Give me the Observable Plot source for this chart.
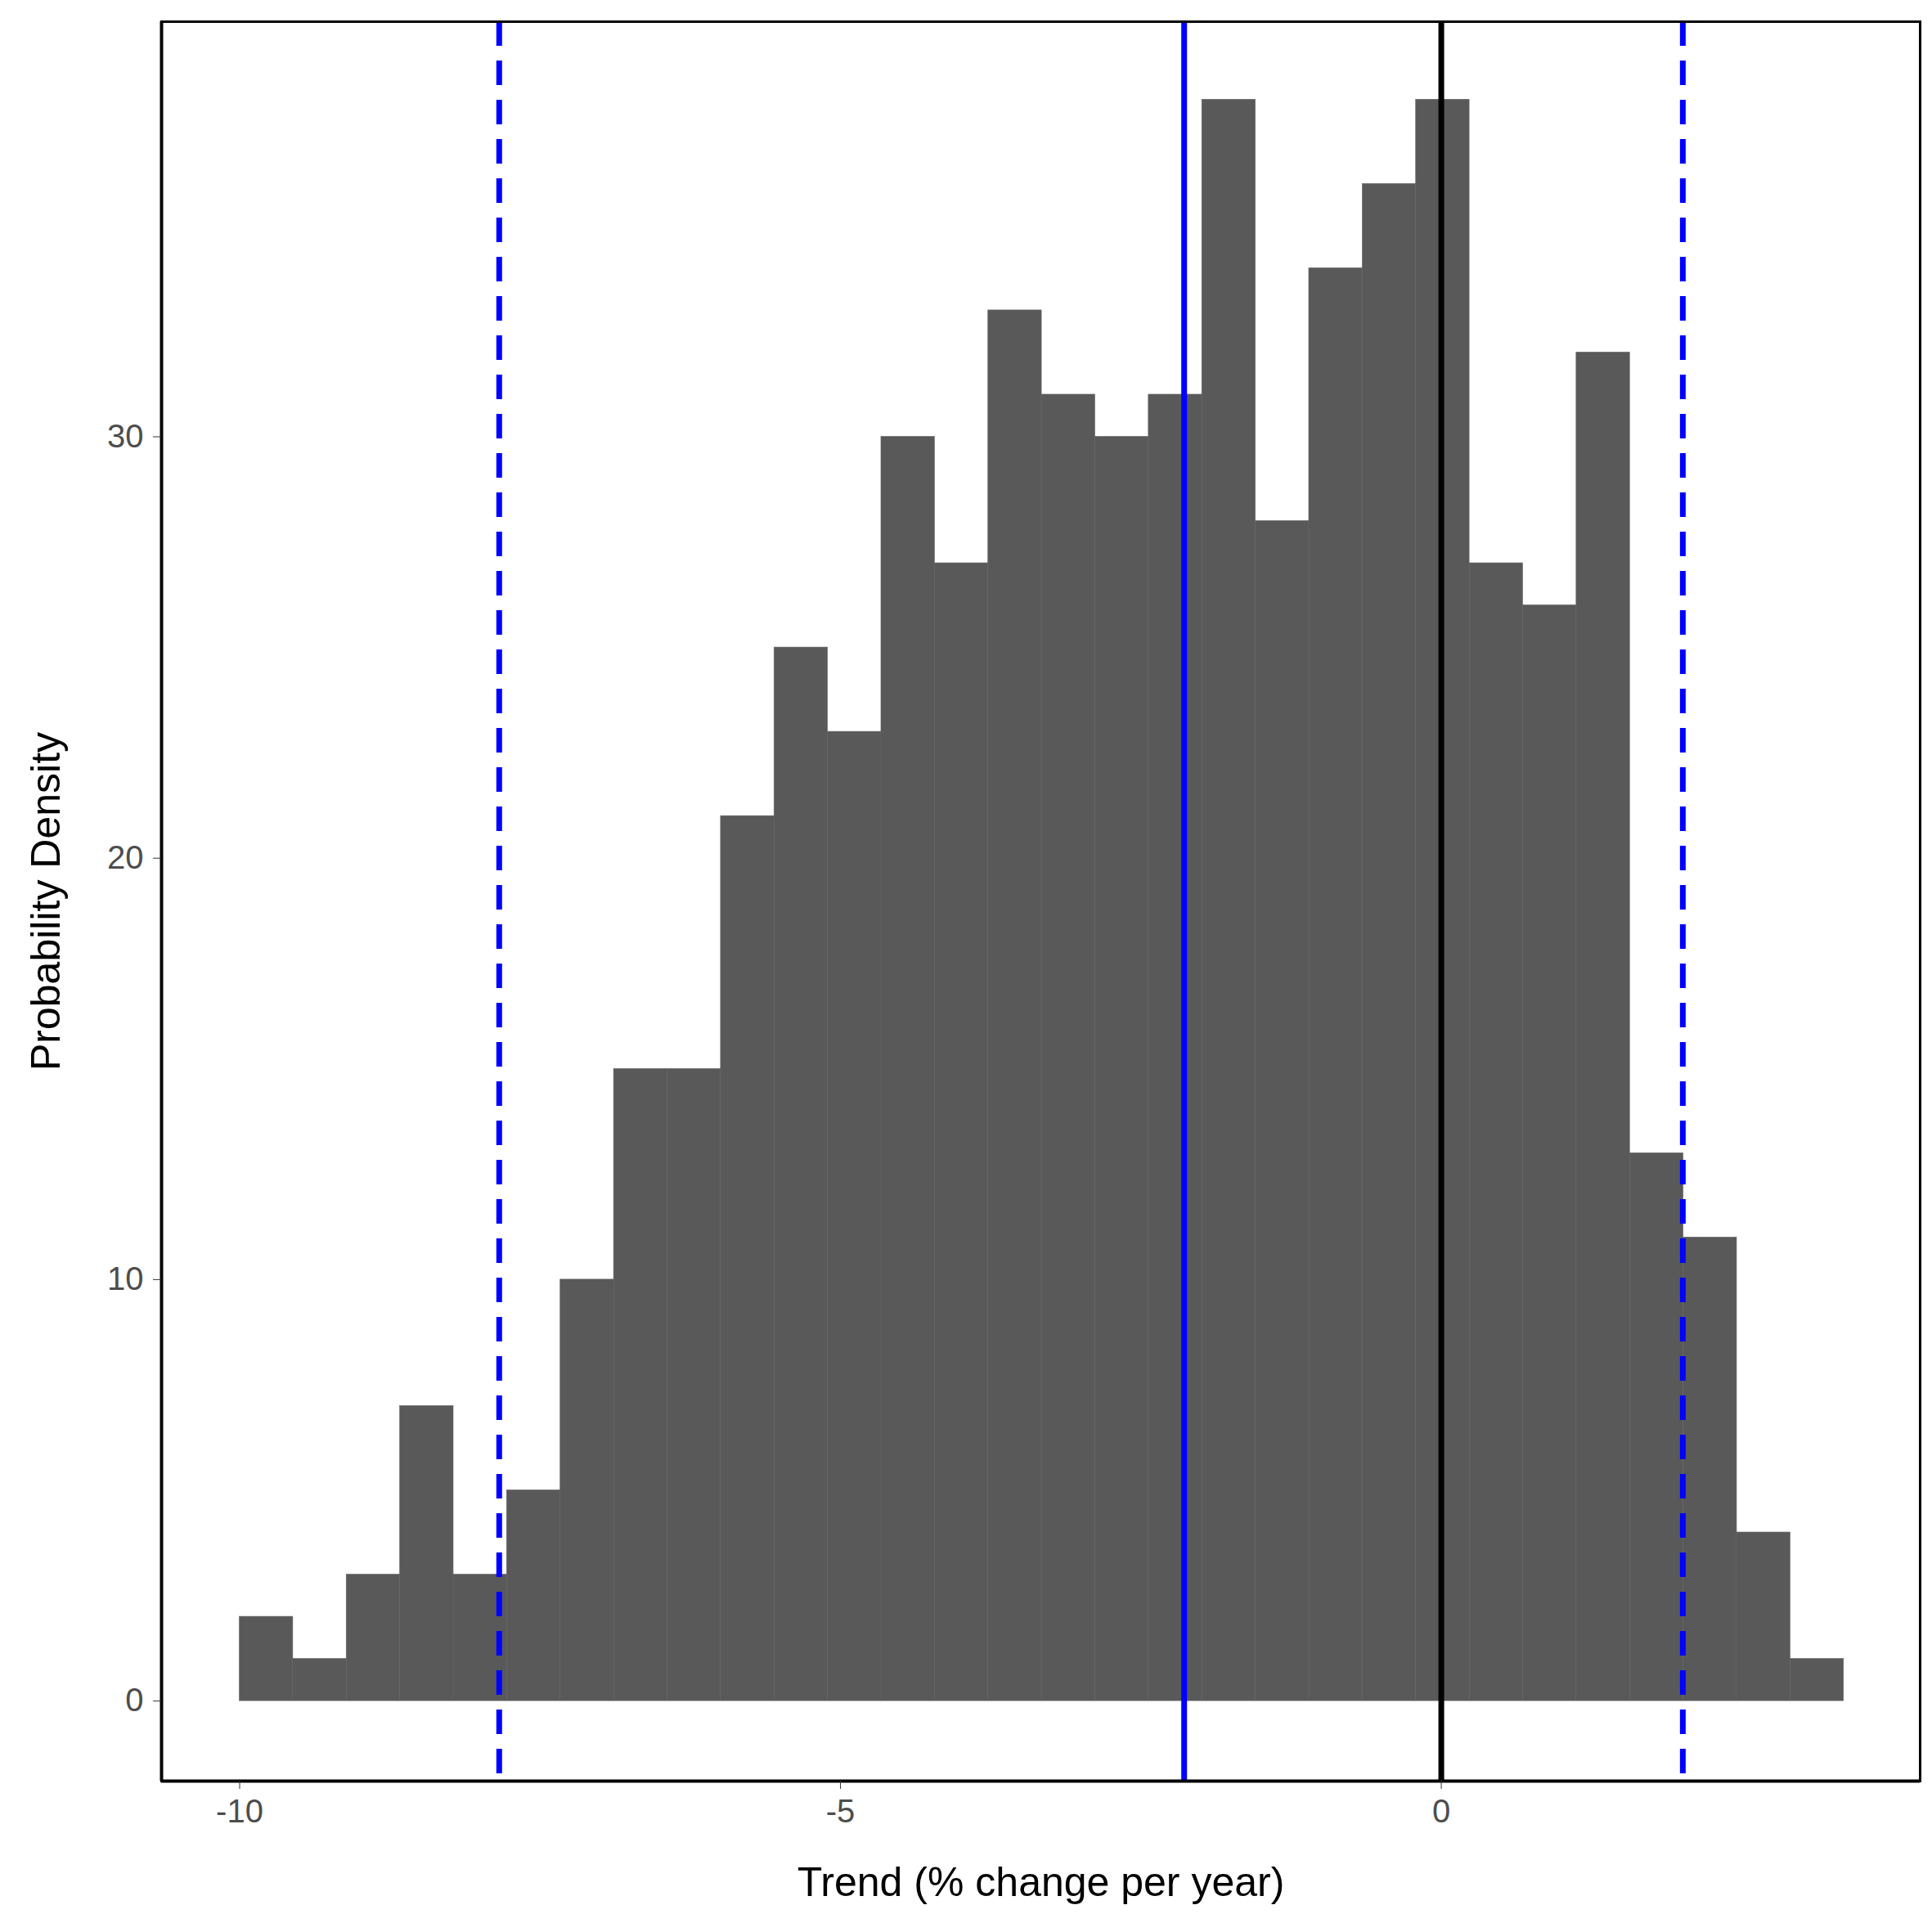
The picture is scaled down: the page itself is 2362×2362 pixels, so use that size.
<!DOCTYPE html>
<html>
<head>
<meta charset="UTF-8">
<script src="https://cdn.jsdelivr.net/npm/d3@7"></script>
<script src="https://cdn.jsdelivr.net/npm/@observablehq/plot@0.6"></script>
<style>body{margin:0;background:#fff;}</style>
</head>
<body>
<div id="chart"></div>
<script>
// histogram counts, bins start at -10 with width 0.445
const counts = [2,1,3,7,3,5,10,15,15,21,25,23,30,27,33,31,30,31,38,28,34,36,38,27,26,32,13,11,4,1];
const binStart = -10;
const binWidth = 0.445;
const meanTrend = -2.14;
const ciBounds = [-7.84, 2.01];
const zeroLine = [0];
const xTicks = [-10, -5, 0];
const yTicks = [0, 10, 20, 30];

const bins = counts.map((c, i) => ({x1: binStart + i * binWidth, x2: binStart + (i + 1) * binWidth, y: c}));
const xDom = [-10.65, 3.985], yDom = [-1.9, 39.85];

const plot = Plot.plot({
  width: 2362, height: 2362,
  marginLeft: 197, marginRight: 15, marginTop: 26, marginBottom: 185,
  style: {fontFamily: "Liberation Sans, Arial, sans-serif", fontSize: "38px", background: "#fff"},
  x: {domain: xDom},
  y: {domain: yDom},
  marks: [
    Plot.rectY(bins, {x1: "x1", x2: "x2", y1: 0, y2: "y", fill: "#595959", stroke: "#636363", strokeWidth: 0.6}),
    Plot.ruleX(ciBounds, {stroke: "#0000ff", strokeWidth: 7, strokeDasharray: "30,18"}),
    Plot.ruleX([meanTrend], {stroke: "#0000ff", strokeWidth: 7}),
    Plot.ruleX(zeroLine, {stroke: "black", strokeWidth: 7}),
    Plot.frame({stroke: "black", strokeWidth: 3}),
    Plot.ruleX([xDom[0]], {stroke: "black", strokeWidth: 4}),
    Plot.ruleY([yDom[0]], {stroke: "black", strokeWidth: 4}),
    Plot.axisX({ticks: xTicks, tickFormat: d => d, tickSize: 10, tickPadding: 12, fill: "#4d4d4d", stroke: "#333", label: null, fontSize: 40}),
    Plot.axisX({ticks: [], label: "Trend (% change per year)", labelAnchor: "center", labelArrow: "none", labelOffset: 140, fontSize: 50, fill: "black"}),
    Plot.axisY({ticks: yTicks, tickSize: 10, tickPadding: 12, fill: "#4d4d4d", stroke: "#333", label: null, fontSize: 40}),
    Plot.axisY({ticks: [], label: "Probability Density", labelAnchor: "center", labelArrow: "none", labelOffset: 160, fontSize: 50, fill: "black"})
  ]
});
document.querySelector("#chart").append(plot);
</script>
</body>
</html>
